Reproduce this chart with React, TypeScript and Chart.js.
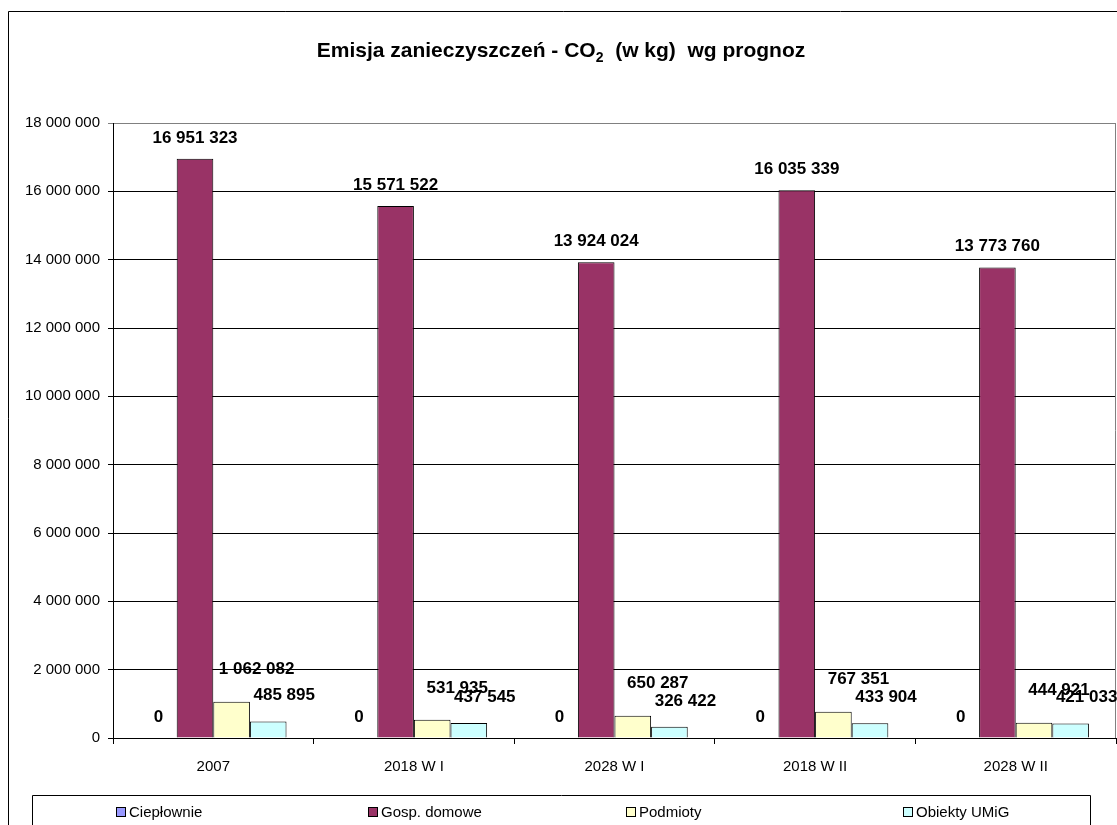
import React, { useEffect, useRef } from "react";
import { Chart, registerables } from "chart.js";

Chart.register(...registerables);

// Emission forecasts (kg CO2) per scenario
const categories = ["2007", "2018 W I", "2028 W I", "2018 W II", "2028 W II"];
const cieplownie = [0, 0, 0, 0, 0];
const gospDomowe = [16951323, 15571522, 13924024, 16035339, 13773760];
const podmioty = [1062082, 531935, 650287, 767351, 444921];
const obiektyUMiG = [485895, 437545, 326422, 433904, 421033];

const seriesNames = ["Ciepłownie", "Gosp. domowe", "Podmioty", "Obiekty UMiG"];
const seriesColors = ["#9999FF", "#993366", "#FFFFCC", "#CCFFFF"];

const yMax = 18000000;
const yStep = 2000000;

const FONT = "'Liberation Sans', Arial, sans-serif";

const fmt = (v: number) => String(Math.round(v)).replace(/\B(?=(\d{3})+(?!\d))/g, " ");

// value-label placement relative to the top centre of each bar, per series
const labelShift = [
  { dx: 0, dy: -21 },
  { dx: 0, dy: -21 },
  { dx: 25, dy: -32 },
  { dx: 16, dy: -26 },
];

const framePlugin = {
  id: "frame",
  beforeDraw(chart: any) {
    const { ctx, width, height } = chart;
    ctx.save();
    ctx.fillStyle = "#fff";
    ctx.fillRect(0, 0, width, height);
    // outer chart border
    ctx.strokeStyle = "#000";
    ctx.lineWidth = 1;
    ctx.beginPath();
    ctx.moveTo(8.5, height + 5);
    ctx.lineTo(8.5, 11.5);
    ctx.lineTo(width + 5, 11.5);
    ctx.stroke();
    ctx.restore();
  },
  afterDraw(chart: any) {
    const { ctx, chartArea } = chart;
    ctx.save();
    // right edge of the plot area
    ctx.strokeStyle = "#808080";
    ctx.lineWidth = 1;
    ctx.beginPath();
    ctx.moveTo(Math.round(chartArea.right) - 0.5, chartArea.top);
    ctx.lineTo(Math.round(chartArea.right) - 0.5, chartArea.bottom);
    ctx.stroke();

    // title with subscript
    const partA = "Emisja zanieczyszczeń - CO";
    const sub = "2";
    const partB = "  (w kg)  wg prognoz";
    const bold = `bold 21px ${FONT}`;
    const subFont = `bold 14px ${FONT}`;
    ctx.font = bold;
    const wA = ctx.measureText(partA).width;
    const wB = ctx.measureText(partB).width;
    ctx.font = subFont;
    const wS = ctx.measureText(sub).width;
    const total = wA + wS + wB;
    let x = 561 - total / 2;
    const baseY = 57;
    ctx.fillStyle = "#000";
    ctx.textBaseline = "alphabetic";
    ctx.textAlign = "left";
    ctx.font = bold;
    ctx.fillText(partA, x, baseY);
    x += wA;
    ctx.font = subFont;
    ctx.fillText(sub, x, baseY + 5);
    x += wS;
    ctx.font = bold;
    ctx.fillText(partB, x, baseY);

    // value labels above bars
    ctx.font = `bold 17px ${FONT}`;
    ctx.textAlign = "center";
    ctx.textBaseline = "middle";
    chart.data.datasets.forEach((ds: any, di: number) => {
      const meta = chart.getDatasetMeta(di);
      meta.data.forEach((bar: any, i: number) => {
        const s = labelShift[di];
        ctx.fillText(fmt(ds.data[i]), bar.x + s.dx, bar.y + s.dy);
      });
    });

    // legend box
    ctx.strokeStyle = "#000";
    ctx.beginPath();
    ctx.rect(32.5, 795.5, 1058, 60);
    ctx.stroke();
    const legendX = [116, 368, 626, 903];
    ctx.font = `15px ${FONT}`;
    ctx.textAlign = "left";
    ctx.textBaseline = "middle";
    chart.data.datasets.forEach((ds: any, di: number) => {
      const lx = legendX[di];
      ctx.fillStyle = ds.backgroundColor;
      ctx.fillRect(lx + 0.5, 807.5, 9, 9);
      ctx.strokeStyle = "#000";
      ctx.strokeRect(lx + 0.5, 807.5, 9, 9);
      ctx.fillStyle = "#000";
      ctx.fillText(ds.label, lx + 13, 813);
    });
    ctx.restore();
  },
};

export default function App() {
  const ref = useRef<HTMLCanvasElement | null>(null);

  useEffect(() => {
    if (!ref.current) return;
    const seriesData = [cieplownie, gospDomowe, podmioty, obiektyUMiG];
    const chart = new Chart(ref.current, {
      type: "bar",
      data: {
        labels: categories,
        datasets: seriesData.map((d, i) => ({
          label: seriesNames[i],
          data: d,
          backgroundColor: seriesColors[i],
          borderColor: "#000",
          borderWidth: 1,
          borderSkipped: "bottom",
          categoryPercentage: 0.73,
          barPercentage: 1,
        })),
      },
      options: {
        responsive: false,
        animation: false,
        layout: { padding: { top: 123, right: 1, left: 0, bottom: 0 } },
        plugins: {
          legend: { display: false },
          title: { display: false },
          tooltip: { enabled: false },
        },
        scales: {
          x: {
            afterFit: (s: any) => {
              s.height = 87;
            },
            grid: {
              offset: true,
              drawOnChartArea: false,
              drawTicks: true,
              tickLength: 6,
              color: "#000",
            },
            border: { display: true, color: "#000" },
            ticks: {
              color: "#000",
              font: { family: FONT, size: 15 },
              padding: 14,
            },
          },
          y: {
            min: 0,
            max: yMax,
            afterFit: (s: any) => {
              s.width = 113;
            },
            grid: {
              color: (c: any) => (c.tick && c.tick.value === yMax ? "#808080" : "#000"),
              tickLength: 5,
            },
            border: { display: true, color: "#000" },
            ticks: {
              stepSize: yStep,
              color: "#000",
              font: { family: FONT, size: 15 },
              padding: 8,
              callback: (v: any) => fmt(Number(v)),
            },
          },
        },
      },
      plugins: [framePlugin],
    });
    return () => chart.destroy();
  }, []);

  return (
    <div style={{ position: "absolute", left: 0, top: 0, width: 1117, height: 825, overflow: "hidden" }}>
      <canvas ref={ref} width={1117} height={825} style={{ display: "block" }} />
    </div>
  );
}
